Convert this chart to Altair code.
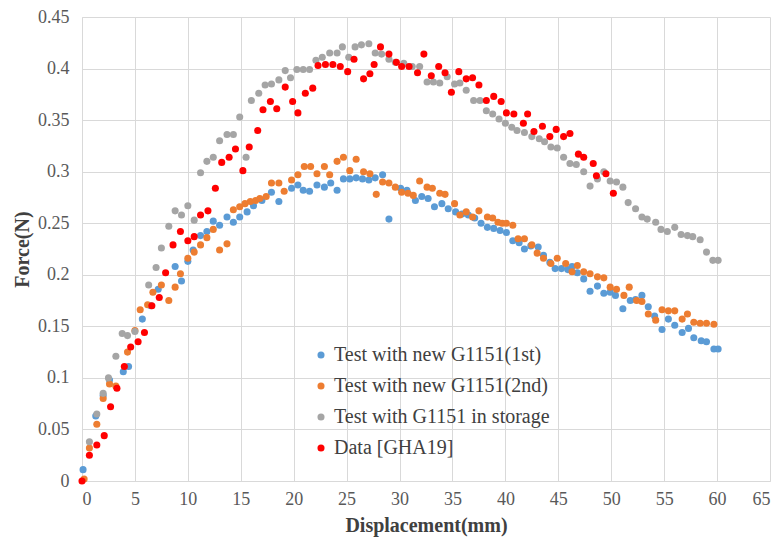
import altair as alt
import pandas as pd

names = ["Test with new G1151(1st)", "Test with new G1151(2nd)",
         "Test with G1151 in storage", "Data [GHA19]"]
colors = ["#5B9BD5", "#ED7D31", "#A5A5A5", "#FF0000"]
sizes = [50, 50, 50, 76]

blue_x = [0.1, 1.3, 2.0, 2.6, 3.9, 4.4, 5.7, 6.5, 7.2, 8.8, 9.4, 10.0, 10.5, 11.2, 11.8, 12.4, 13.0, 13.7,
          14.3, 14.9, 15.6, 16.2, 17.0, 17.9, 18.6, 19.8, 20.4, 20.9, 21.5, 22.2, 22.9, 23.5, 24.1, 24.7,
          25.3, 25.9, 26.5, 27.1, 27.7, 28.4, 29.0, 30.1, 30.7, 31.5, 32.1, 32.7, 33.3, 34.0, 34.6, 35.3,
          35.9, 36.5, 37.1, 37.7, 38.3, 38.9, 39.5, 40.1, 40.7, 41.3, 41.8, 42.4, 43.1, 43.6, 44.2, 44.7,
          45.3, 45.9, 46.3, 46.8, 47.4, 48.0, 48.7, 49.3, 49.9, 50.4, 51.1, 51.8, 52.3, 52.9, 53.5, 54.1,
          54.8, 55.4, 56.0, 56.7, 57.3, 57.8, 58.5, 59.0, 59.7, 60.1]
blue_y = [0.011, 0.063, 0.083, 0.098, 0.106, 0.111, 0.157, 0.170, 0.186, 0.208, 0.194, 0.213, 0.224, 0.238,
          0.242, 0.252, 0.248, 0.256, 0.251, 0.256, 0.261, 0.267, 0.272, 0.280, 0.271, 0.284, 0.287, 0.282,
          0.281, 0.287, 0.285, 0.289, 0.282, 0.293, 0.293, 0.294, 0.293, 0.292, 0.294, 0.297, 0.254, 0.284,
          0.282, 0.272, 0.276, 0.274, 0.266, 0.269, 0.264, 0.261, 0.259, 0.258, 0.255, 0.250, 0.246, 0.245,
          0.243, 0.241, 0.233, 0.231, 0.225, 0.228, 0.227, 0.219, 0.212, 0.206, 0.206, 0.205, 0.208, 0.202,
          0.196, 0.184, 0.189, 0.182, 0.183, 0.180, 0.167, 0.175, 0.176, 0.180, 0.169, 0.160, 0.147, 0.157,
          0.151, 0.144, 0.148, 0.139, 0.136, 0.135, 0.128, 0.128]

orange_x = [0.2, 0.7, 1.4, 2.0, 2.6, 3.2, 4.3, 5.0, 5.5, 6.2, 6.7, 7.5, 8.2, 8.8, 9.3, 10.0, 10.6, 11.2,
            11.8, 12.4, 13.0, 13.7, 14.3, 14.9, 15.4, 15.9, 16.4, 16.8, 17.4, 17.9, 18.6, 19.1, 19.8, 20.4,
            21.0, 21.6, 22.2, 22.9, 23.4, 24.1, 24.7, 25.3, 25.9, 26.6, 27.2, 27.8, 28.4, 29.0, 29.6, 30.2,
            30.8, 31.3, 31.9, 32.6, 33.1, 33.8, 34.3, 35.2, 35.7, 36.3, 36.9, 37.5, 38.3, 38.8, 39.3, 39.7,
            40.1, 40.7, 41.2, 41.8, 42.5, 43.0, 43.6, 44.3, 44.9, 45.7, 46.3, 46.8, 47.4, 48.0, 48.7, 49.3,
            49.9, 50.5, 51.2, 51.7, 52.4, 52.9, 53.5, 54.2, 54.8, 55.4, 56.0, 56.7, 57.2, 57.8, 58.4, 59.0,
            59.7]
orange_y = [0.002, 0.032, 0.055, 0.080, 0.094, 0.092, 0.125, 0.146, 0.166, 0.171, 0.183, 0.190, 0.175,
            0.188, 0.201, 0.216, 0.222, 0.229, 0.236, 0.244, 0.224, 0.230, 0.263, 0.266, 0.269, 0.271,
            0.272, 0.274, 0.276, 0.289, 0.289, 0.281, 0.292, 0.297, 0.305, 0.305, 0.298, 0.305, 0.297,
            0.310, 0.314, 0.301, 0.312, 0.300, 0.298, 0.278, 0.290, 0.289, 0.285, 0.280, 0.279, 0.277,
            0.291, 0.285, 0.284, 0.279, 0.278, 0.269, 0.258, 0.261, 0.256, 0.262, 0.256, 0.255, 0.251,
            0.250, 0.250, 0.248, 0.235, 0.235, 0.229, 0.221, 0.216, 0.211, 0.216, 0.211, 0.203, 0.209,
            0.203, 0.201, 0.198, 0.197, 0.188, 0.186, 0.180, 0.188, 0.175, 0.174, 0.162, 0.156, 0.166,
            0.165, 0.165, 0.157, 0.162, 0.154, 0.153, 0.153, 0.152]

gray_x = [0.7, 1.4, 2.0, 2.5, 3.2, 3.8, 4.3, 5.0, 6.3, 7.0, 7.5, 8.2, 8.8, 9.4, 10.0, 10.6, 11.2, 11.8,
          12.4, 13.0, 13.7, 14.3, 14.9, 15.5, 16.0, 16.7, 17.3, 17.9, 18.6, 19.2, 19.7, 20.3, 20.9, 21.5,
          22.1, 22.7, 23.4, 24.1, 24.6, 25.2, 25.8, 26.4, 27.1, 27.7, 28.3, 29.0, 29.6, 30.4, 31.2, 31.9,
          32.6, 33.2, 33.8, 34.5, 35.2, 35.7, 36.3, 37.0, 37.6, 38.2, 38.8, 39.4, 40.0, 40.6, 41.1, 41.8,
          42.5, 43.2, 43.7, 44.3, 44.9, 45.5, 46.1, 46.7, 47.4, 48.0, 48.7, 49.3, 49.9, 50.5, 51.1, 51.6,
          52.3, 52.9, 53.4, 54.2, 54.7, 55.3, 56.0, 56.6, 57.2, 57.7, 58.4, 59.0, 59.6, 60.1]
gray_y = [0.038, 0.065, 0.085, 0.100, 0.121, 0.143, 0.141, 0.145, 0.190, 0.207, 0.226, 0.247, 0.262,
          0.258, 0.267, 0.253, 0.299, 0.310, 0.314, 0.330, 0.336, 0.336, 0.353, 0.314, 0.369, 0.376,
          0.384, 0.385, 0.389, 0.398, 0.391, 0.399, 0.399, 0.399, 0.408, 0.411, 0.415, 0.415, 0.421,
          0.411, 0.421, 0.423, 0.424, 0.415, 0.414, 0.409, 0.406, 0.405, 0.402, 0.402, 0.387, 0.387,
          0.386, 0.392, 0.385, 0.386, 0.379, 0.369, 0.369, 0.359, 0.356, 0.351, 0.347, 0.343, 0.340,
          0.338, 0.334, 0.332, 0.329, 0.324, 0.323, 0.314, 0.308, 0.307, 0.300, 0.286, 0.293, 0.300,
          0.291, 0.290, 0.285, 0.270, 0.264, 0.256, 0.254, 0.251, 0.244, 0.242, 0.246, 0.239, 0.238,
          0.237, 0.234, 0.222, 0.214, 0.214]

red_x = [0.0, 0.7, 1.4, 2.1, 2.7, 3.3, 4.0, 4.6, 5.3, 5.9, 6.6, 7.3, 7.9, 8.6, 9.3, 10.0, 10.6, 11.2,
         11.9, 12.6, 13.2, 13.9, 14.5, 15.2, 15.8, 16.6, 17.1, 17.8, 18.4, 19.2, 19.9, 20.4, 21.1, 21.8,
         22.3, 23.0, 23.7, 24.4, 25.1, 25.7, 26.6, 27.2, 27.6, 28.2, 29.0, 29.7, 30.2, 30.9, 31.7, 32.3,
         33.0, 33.7, 34.3, 34.9, 35.6, 36.3, 36.9, 37.5, 38.2, 38.9, 39.6, 40.1, 40.8, 41.7, 42.1, 42.7,
         43.5, 44.2, 44.8, 45.5, 46.1, 46.9, 47.4, 48.3, 48.6, 49.5, 50.2]
red_y = [0.000, 0.025, 0.035, 0.044, 0.072, 0.090, 0.111, 0.130, 0.135, 0.144, 0.170, 0.178, 0.202,
         0.229, 0.242, 0.233, 0.237, 0.258, 0.262, 0.284, 0.309, 0.314, 0.322, 0.301, 0.324, 0.340,
         0.360, 0.368, 0.361, 0.382, 0.368, 0.357, 0.376, 0.381, 0.403, 0.404, 0.404, 0.402, 0.397,
         0.409, 0.390, 0.395, 0.404, 0.421, 0.414, 0.406, 0.402, 0.402, 0.396, 0.414, 0.393, 0.402,
         0.396, 0.377, 0.397, 0.390, 0.391, 0.384, 0.369, 0.373, 0.368, 0.357, 0.356, 0.347, 0.356,
         0.339, 0.344, 0.334, 0.341, 0.334, 0.337, 0.317, 0.314, 0.308, 0.296, 0.298, 0.279]

x_ticks = list(range(0, 70, 5))
y_ticks = [0, 0.05, 0.1, 0.15, 0.2, 0.25, 0.3, 0.35, 0.4, 0.45]

rows = []
for i, (name, xs, ys) in enumerate(zip(names, [blue_x, orange_x, gray_x, red_x],
                                        [blue_y, orange_y, gray_y, red_y])):
    for a, b in zip(xs, ys):
        rows.append({"series": name, "x": a, "y": b, "ord": i})
df = pd.DataFrame(rows)

FONT = "Liberation Serif"
axis_common = dict(labelFont=FONT, labelFontSize=18, labelColor="#595959",
                   titleFont=FONT, titleFontSize=20, titleFontWeight="bold", titleColor="#404040",
                   grid=True, gridColor="#D9D9D9", domainColor="#D9D9D9", ticks=False)

chart = alt.Chart(df).mark_circle(opacity=1).encode(
    x=alt.X("x:Q", scale=alt.Scale(domain=[0, 65], nice=False),
            axis=alt.Axis(values=x_ticks, title="Displacement(mm)", format="d",
                          labelPadding=9, titlePadding=7, **axis_common)),
    y=alt.Y("y:Q", scale=alt.Scale(domain=[0, 0.45], nice=False),
            axis=alt.Axis(values=y_ticks, title="Force(N)", format="~g",
                          labelPadding=13, titlePadding=5, **axis_common)),
    color=alt.Color("series:N", scale=alt.Scale(domain=names, range=colors),
                    legend=alt.Legend(title=None, orient="none", legendX=229, legendY=328,
                                      labelFontSize=20, labelFont=FONT, labelColor="#404040",
                                      rowPadding=11, labelOffset=3, labelLimit=400, symbolType="circle")),
    size=alt.Size("series:N", scale=alt.Scale(domain=names, range=sizes), legend=None),
    order=alt.Order("ord:Q"),
).properties(
    width=688, height=464,
    autosize=alt.AutoSizeParams(type="none"),
    padding={"left": 74, "top": 9, "right": 3, "bottom": 60},
).configure(font=FONT).configure_view(strokeWidth=0)

chart.save("out.html", embed_options={"renderer": "svg", "actions": False})
